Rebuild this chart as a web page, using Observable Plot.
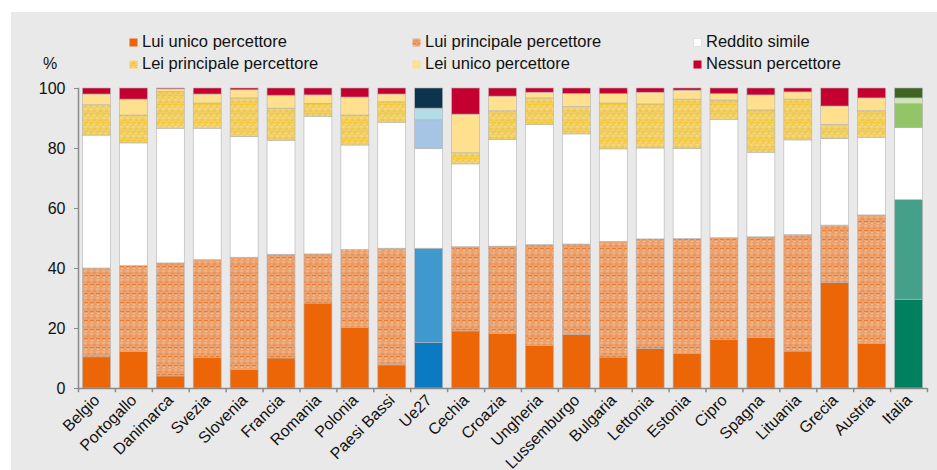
<!DOCTYPE html>
<html><head><meta charset="utf-8">
<script src="https://cdn.jsdelivr.net/npm/d3@7"></script>
<script src="https://cdn.jsdelivr.net/npm/@observablehq/plot@0.6"></script>
<style>
html,body{margin:0;padding:0;background:#fff;width:937px;height:470px;overflow:hidden;font-family:"Liberation Sans",Arial,sans-serif;}
#panel{position:absolute;left:11px;top:12px;width:926px;height:458px;background:#e9e9e9;}
#chart{position:absolute;left:0;top:0;}
.leg{position:absolute;font-size:16.5px;line-height:19px;color:#111;white-space:nowrap;}
.leg svg{position:absolute;left:-13px;top:6.5px;}
#pct{position:absolute;left:43px;top:53.8px;font-size:16px;line-height:19px;color:#111;}
</style></head>
<body>
<div id="panel"></div>
<div id="chart"></div>
<div id="pct">%</div>
<div id="legend"></div>
<script>
const countries = ["Belgio","Portogallo","Danimarca","Svezia","Slovenia","Francia","Romania","Polonia","Paesi Bassi","Ue27","Cechia","Croazia","Ungheria","Lussemburgo","Bulgaria","Lettonia","Estonia","Cipro","Spagna","Lituania","Grecia","Austria","Italia"];
const seriesNames = ["Lui unico percettore","Lui principale percettore","Reddito simile","Lei principale percettore","Lei unico percettore","Nessun percettore"];
const luiUnico       = [10.4,12.2, 4.0,10.2, 6.2,10.0,28.3,20.2, 7.7,15.2,19.0,18.2,14.2,17.9,10.3,13.2,11.6,16.2,16.8,12.3,35.1,14.9,29.6];
const luiPrincipale  = [29.6,28.6,37.7,32.6,37.4,34.6,16.4,26.0,38.9,31.4,28.1,29.1,33.6,30.1,38.6,36.5,38.2,33.9,33.6,38.8,19.2,42.8,33.2];
const redditoSimile  = [44.3,40.9,44.9,43.8,40.3,38.0,45.9,34.8,42.0,33.3,27.6,35.6,40.0,36.7,30.8,30.3,30.1,39.5,28.2,31.6,28.9,25.9,24.0];
const leiPrincipale  = [10.1, 9.3,12.2, 8.4,12.8,10.7, 4.3,10.0, 6.8, 9.5, 3.7, 9.5, 8.9, 9.1,15.3,14.7,16.4, 6.4,14.1,13.6, 4.7, 8.8, 8.0];
const leiUnico       = [ 3.6, 5.3, 0.9, 3.0, 2.7, 4.3, 2.8, 6.0, 2.6, 3.9,12.9, 4.9, 1.9, 4.4, 3.1, 3.9, 3.0, 2.1, 5.0, 2.4, 6.1, 4.3, 1.9];
const nessun         = [ 2.0, 3.7, 0.3, 2.0, 0.6, 2.4, 2.3, 3.0, 2.0, 6.7, 8.7, 2.7, 1.4, 1.8, 1.9, 1.4, 0.7, 1.9, 2.3, 1.3, 6.0, 3.3, 3.3];
const seriesValues = [luiUnico, luiPrincipale, redditoSimile, leiPrincipale, leiUnico, nessun];

const basePalette  = ["#ec6608","url(#patOrange)","#ffffff","url(#patGold)","#fee08e","#c3002f"];
const euPalette    = ["#0a7bc2","#3f99ce","#ffffff","#a6c4e3","#b3dde6","#0d344f"];
const itPalette    = ["#00805e","#45a08a","#ffffff","#93c468","#d0e6b8","#3f6424"];

const data = [];
countries.forEach((c, i) => seriesNames.forEach((s, j) => data.push({country: c, series: s, idx: j, value: seriesValues[j][i]})));
const fillFor = d => d.country === "Ue27" ? euPalette[d.idx] : d.country === "Italia" ? itPalette[d.idx] : basePalette[d.idx];

const axisGray = "#8a8a8a";
const half = 36.9 / 2;
const chart = Plot.plot({
  width: 937, height: 470,
  marginTop: 88, marginBottom: 82, marginLeft: 78, marginRight: 10,
  style: {background: "transparent", fontFamily: "'Liberation Sans', Arial, sans-serif", fontSize: "16px", color: "#111", overflow: "visible"},
  x: {domain: countries, paddingInner: 0.243, paddingOuter: 0.1215, round: false, label: null},
  y: {domain: [0, 100], label: null},
  color: {type: "identity"},
  marks: [
    Plot.barY(data, {x: "country", y: "value", fill: fillFor, stroke: "#b3b3b3", strokeWidth: 0.6}),
    Plot.ruleY([0], {stroke: axisGray, strokeWidth: 1.5}),
    Plot.frame({anchor: "left", stroke: axisGray, strokeWidth: 1.5}),
    Plot.ruleX(countries, {x: d => d, y1: 0, y2: -1.4, dx: -half, stroke: axisGray, strokeWidth: 1.5}),
    Plot.ruleX(countries.slice(-1), {x: d => d, y1: 0, y2: -1.4, dx: half, stroke: axisGray, strokeWidth: 1.5}),
    Plot.axisY({ticks: [0, 20, 40, 60, 80, 100], tickSize: 4, tickPadding: 9, stroke: axisGray, label: null}),
    Plot.axisX({tickSize: 0, tickRotate: -45, tickPadding: 9, label: null})
  ]
});

const ns = "http://www.w3.org/2000/svg";
const defs = document.createElementNS(ns, "defs");
function addPattern(id, w, h, bg, rects) {
  const p = document.createElementNS(ns, "pattern");
  p.setAttribute("id", id); p.setAttribute("patternUnits", "userSpaceOnUse");
  p.setAttribute("width", w); p.setAttribute("height", h);
  const b = document.createElementNS(ns, "rect");
  b.setAttribute("width", w); b.setAttribute("height", h); b.setAttribute("fill", bg);
  p.appendChild(b);
  rects.forEach(([x, y, rw, rh, f]) => {
    const r = document.createElementNS(ns, "rect");
    r.setAttribute("x", x); r.setAttribute("y", y); r.setAttribute("width", rw); r.setAttribute("height", rh); r.setAttribute("fill", f);
    p.appendChild(r);
  });
  defs.appendChild(p);
}
addPattern("patOrange", 6, 9, "#eca26e", [[0,0,3,2,"#f0b084"],[3,2,3,2,"#e8945a"],[0,5,4,1,"#ec7c30"],[1,7,2,1,"#f3c39c"],[4,7,2,1,"#e99c64"]]);
addPattern("patGold", 6, 9, "#f2cf63", [[0,0,3,2,"#f4d67c"],[3,2,3,2,"#efc650"],[0,5,4,1,"#f9c918"],[3,7,2,1,"#f5da90"],[0,7,2,1,"#eec552"]]);
chart.insertBefore(defs, chart.firstChild);
document.getElementById("chart").appendChild(chart);

// legend
const legendItems = [
  {name: seriesNames[0], fill: basePalette[0], left: 142, top: 31.5},
  {name: seriesNames[1], fill: basePalette[1], left: 425, top: 31.5},
  {name: seriesNames[2], fill: basePalette[2], left: 706, top: 31.5},
  {name: seriesNames[3], fill: basePalette[3], left: 142, top: 53.8},
  {name: seriesNames[4], fill: basePalette[4], left: 425, top: 53.8},
  {name: seriesNames[5], fill: basePalette[5], left: 706, top: 53.8}
];
const leg = document.getElementById("legend");
legendItems.forEach(it => {
  const d = document.createElement("div");
  d.className = "leg"; d.style.left = it.left + "px"; d.style.top = it.top + "px";
  d.innerHTML = `<svg width="9" height="9"><rect x="0.5" y="0.5" width="8" height="8" fill="${it.fill}" stroke="${it.fill === '#ffffff' ? '#e0e0e0' : 'none'}"/></svg>${it.name}`;
  leg.appendChild(d);
});
</script>
</body></html>
